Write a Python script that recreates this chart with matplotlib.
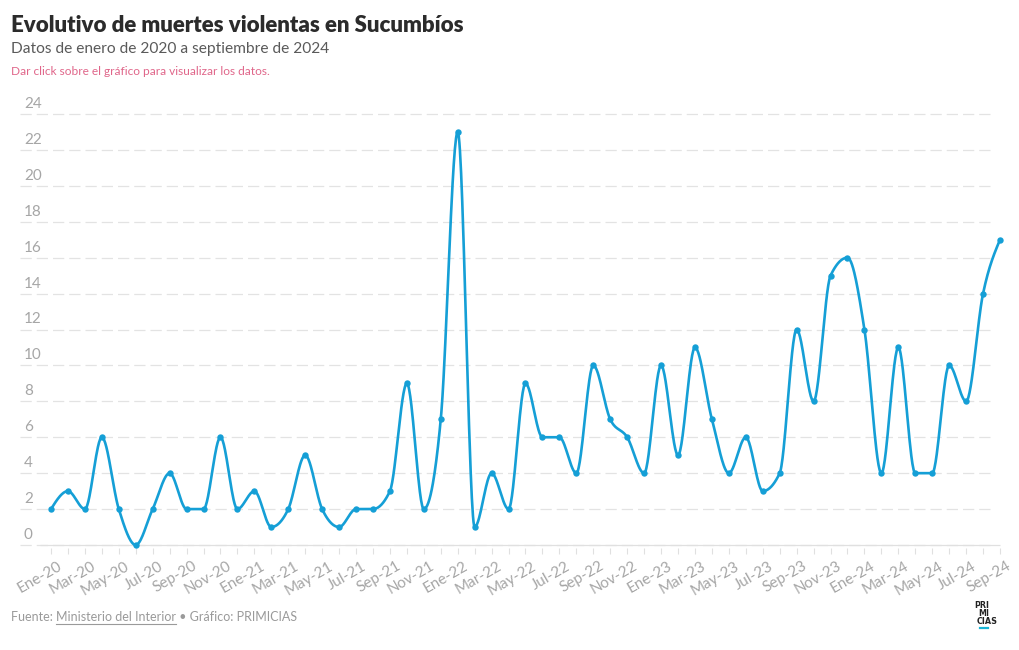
import numpy as np
import matplotlib
matplotlib.use("Agg")
import matplotlib.pyplot as plt
from matplotlib.transforms import offset_copy, ScaledTranslation

# ---------------- data ----------------
months_es = ["Ene", "Feb", "Mar", "Abr", "May", "Jun", "Jul", "Ago", "Sep", "Oct", "Nov", "Dic"]
years = ["20", "21", "22", "23", "24"]
dates = [f"{m}-{y}" for y in years for m in months_es][:57]   # Ene-20 .. Sep-24

values_2020 = [2, 3, 2, 6, 2, 0, 2, 4, 2, 2, 6, 2]
values_2021 = [3, 1, 2, 5, 2, 1, 2, 2, 3, 9, 2, 7]
values_2022 = [23, 1, 4, 2, 9, 6, 6, 4, 10, 7, 6, 4]
values_2023 = [10, 5, 11, 7, 4, 6, 3, 4, 12, 8, 15, 16]
values_2024 = [12, 4, 11, 4, 4, 10, 8, 14, 17]
values = values_2020 + values_2021 + values_2022 + values_2023 + values_2024

y_ticks = list(range(0, 25, 2))

title = "Evolutivo de muertes violentas en Sucumbíos"
subtitle = "Datos de enero de 2020 a septiembre de 2024"
note = "Dar click sobre el gráfico para visualizar los datos."

LINE = "#159fd6"
GRID = "#e3e3e3"
TICKTXT = "#a6a6a6"
FONT = "Lato"


def monotone_curve(y, n=30):
    """d3 curveMonotoneX style interpolation (unit spacing)."""
    y = np.asarray(y, float)
    N = len(y)
    s = np.diff(y)
    t = np.zeros(N)
    for i in range(1, N - 1):
        s0, s1 = s[i - 1], s[i]
        p = (s0 + s1) / 2.0
        t[i] = (np.sign(s0) + np.sign(s1)) * min(abs(s0), abs(s1), 0.5 * abs(p))
    t[0] = (3 * s[0] - t[1]) / 2.0
    t[-1] = (3 * s[-1] - t[-2]) / 2.0
    xs, ys = [], []
    u = np.linspace(0, 1, n, endpoint=False)
    for i in range(N - 1):
        p0, p3 = y[i], y[i + 1]
        p1 = p0 + t[i] / 3.0
        p2 = p3 - t[i + 1] / 3.0
        b = (1 - u) ** 3 * p0 + 3 * (1 - u) ** 2 * u * p1 + 3 * (1 - u) * u ** 2 * p2 + u ** 3 * p3
        xs.append(i + u)
        ys.append(b)
    xs.append([N - 1])
    ys.append([y[-1]])
    return np.concatenate(xs), np.concatenate(ys)


W, H = 1020, 650
fig = plt.figure(figsize=(W / 100, H / 100), dpi=100)
fig.patch.set_facecolor("white")

# axes: x pixel 20..1010 ; y pixel 100..548
ax_l, ax_r, ax_t, ax_b = 20, 1010, 100, 548
ax = fig.add_axes([ax_l / W, 1 - ax_b / H, (ax_r - ax_l) / W, (ax_b - ax_t) / H])
ppm = (1000 - 51) / 56.0
ax.set_xlim(-(51 - ax_l) / ppm, 56 + (ax_r - 1000) / ppm)
ppu = (545 - 114) / 24.0
ax.set_ylim(-(ax_b - 545) / ppu, 24 + (114 - ax_t) / ppu)
for sp in ax.spines.values():
    sp.set_visible(False)

x = np.arange(len(values))

# grid lines (dashed) and y labels sitting above them
gx = (995 - ax_l) / (ax_r - ax_l)
lx = (24 - ax_l) / (ax_r - ax_l)
for yv in y_ticks:
    ax.plot([0, gx], [yv, yv], transform=ax.get_yaxis_transform(), color=GRID,
            lw=0.9, ls=(0, (9, 4)), zorder=1)
    ax.text(lx, yv, str(yv),
            transform=offset_copy(ax.get_yaxis_transform(), fig=fig, y=6, units="dots"),
            ha="left", va="baseline", fontsize=11, color=TICKTXT, family=FONT)

# baseline
ax.plot([-0.65, 56], [0, 0], color="#e0e0e0", lw=0.9, zorder=1.5, solid_capstyle="butt")

# curve
cx, cy = monotone_curve(values)
ax.plot(cx, cy, color=LINE, lw=1.9, zorder=3, clip_on=False, solid_capstyle="round")
ax.plot(x, values, "o", color=LINE, ms=4.6, zorder=4, clip_on=False, mec="none")

# x ticks
ax.set_yticks([])
ax.set_xticks(x[::2])
ax.set_xticklabels(dates[::2])
ax.set_xticks(x[1::2], minor=True)
ax.tick_params(axis="x", which="both", length=4, width=0.8, color="#e0e0e0",
               direction="out", pad=4)
for lab in ax.get_xticklabels():
    lab.set_rotation(30)
    lab.set_ha("right")
    lab.set_va("top")
    lab.set_rotation_mode("anchor")
    lab.set_fontsize(11)
    lab.set_color(TICKTXT)
    lab.set_family(FONT)
    lab.set_transform(lab.get_transform() + ScaledTranslation(6 / 100, 0, fig.dpi_scale_trans))

# header texts
fig.text(11 / W, 1 - 32 / H, title, fontsize=16.0, weight="heavy", color="#2b2b2b",
         family=FONT, ha="left", va="baseline")
fig.text(11 / W, 1 - 53 / H, subtitle, fontsize=11.2, color="#5a5a5a",
         family=FONT, ha="left", va="baseline")
fig.text(11 / W, 1 - 75 / H, note, fontsize=8.6, color="#e0668a",
         family=FONT, ha="left", va="baseline")

# footer with underlined source
renderer = fig.canvas.get_renderer()
fy = 1 - 621 / H
parts = [("Fuente: ", False), ("Ministerio del Interior", True), (" • Gráfico: PRIMICIAS", False)]
cur = 11
for txt, ul in parts:
    t = fig.text(cur / W, fy, txt, fontsize=9.0, color="#9a9a9a", family=FONT,
                 ha="left", va="baseline")
    bb = t.get_window_extent(renderer)
    if ul:
        fig.add_artist(plt.Line2D([bb.x0 / W, bb.x1 / W], [fy - 3 / H, fy - 3 / H],
                                  color="#9a9a9a", lw=0.8))
    cur = bb.x1

# logo
for txt, lxp, lyp in [("PRI", 974, 608), ("MI", 978, 616), ("CIAS", 977, 624)]:
    fig.text(lxp / W, 1 - lyp / H, txt, fontsize=5.8, weight="bold", color="#222222",
             family="DejaVu Sans", ha="left", va="baseline")
fig.add_artist(plt.Line2D([980 / W, 988 / W], [1 - 628 / H, 1 - 628 / H], color="#19b5d6", lw=1.6))

fig.savefig("out.png", dpi=100, facecolor="white")
